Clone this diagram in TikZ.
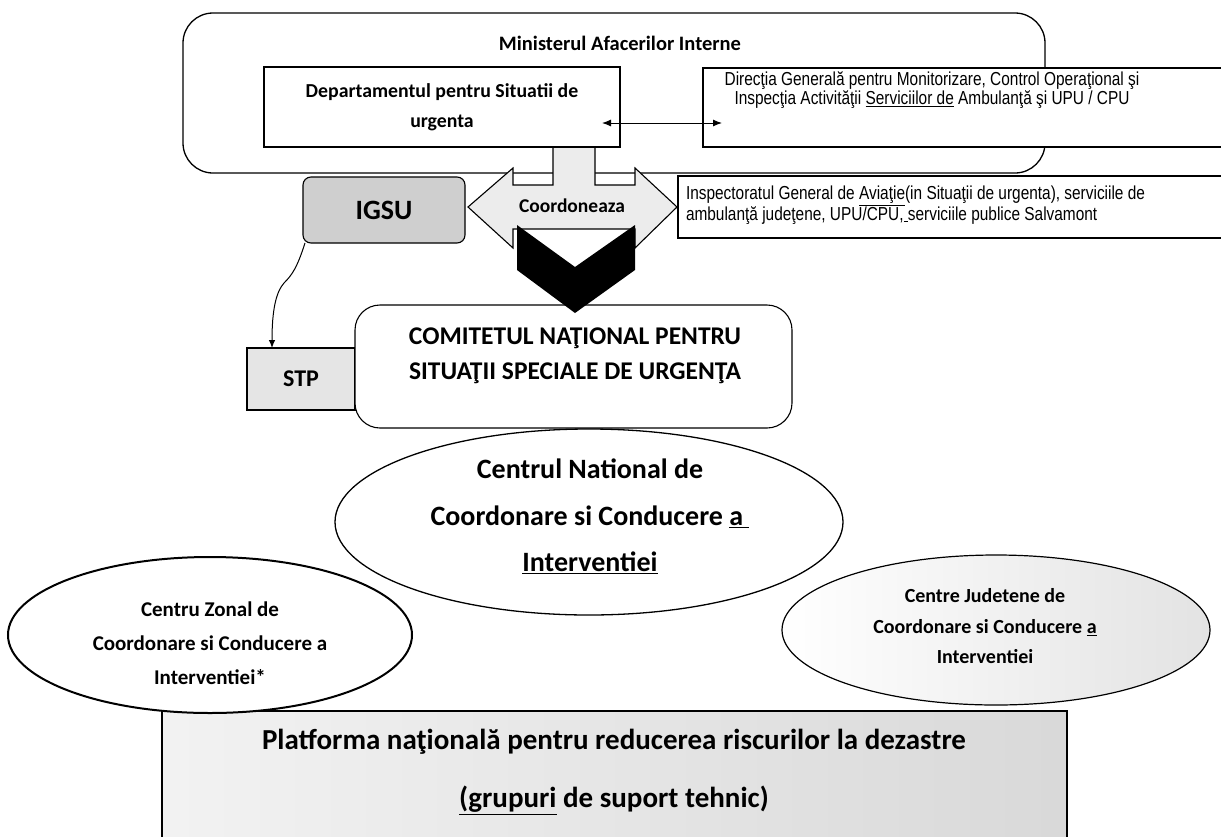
\documentclass[tikz,border=0pt]{standalone}
\usepackage{fontspec}
\setmainfont{Carlito}
\newfontfamily\narrowsans[FakeStretch=0.82]{Liberation Sans}
\usetikzlibrary{shapes.geometric,arrows.meta}
\newcommand{\fsz}[2]{\fontsize{#1}{#2}\selectfont}
\begin{document}
\begin{tikzpicture}[x=1pt,y=-1pt,line width=1.1pt,
  every node/.style={inner sep=0pt, outer sep=0pt},
  plainbox/.style={draw, fill=white},
  tipstyle/.style={-{Latex[length=8pt,width=6.5pt]}, line width=1pt},
  bothtip/.style={{Latex[length=9pt,width=7pt]}-{Latex[length=9pt,width=7pt]}, line width=1pt},
  narrowtxt/.style={font=\narrowsans\fsz{18.8}{19.5}},
]
\useasboundingbox (0,0) rectangle (1221,836);
\clip (0,0) rectangle (1221,836);

% Ministerul outer box
\node[plainbox, rounded corners=30pt, minimum width=862pt, minimum height=160pt, line width=1.3pt] (mai) at (614,93) {};
\node[font=\fsz{20.5}{22}\bfseries] (maitxt) at (620,43) {Ministerul Afacerilor Interne};

% Coordoneaza arrow shape
\draw[fill=gray!15] (553,140) -- (553,185) -- (513,185) -- (513,168) -- (468,207) -- (513,248) -- (513,229) -- (635,229) -- (635,248) -- (677,207) -- (635,168) -- (635,185) -- (595,185) -- (595,140) -- cycle;

% Departament
\node[plainbox, minimum width=356pt, minimum height=80pt, align=center, font=\fsz{19.8}{30}\bfseries] (dep) at (442,107) {Departamentul pentru Situatii de\\urgenta};

% Directia
\node[plainbox, minimum width=537pt, minimum height=79pt] (dir) at (971.5,107.5) {};
\node[narrowtxt, align=center] (dirtxt) at (932,90) {Direcţia Generală pentru Monitorizare, Control Operaţional şi\\Inspecţia Activităţii \underline{Serviciilor de} Ambulanţă şi UPU / CPU};

\coordinate (dl) at (602,123);
\coordinate (dr) at (722,123);
\draw[bothtip] (dl) -- (dr);

% Inspectoratul
\node[plainbox, minimum width=562pt, minimum height=62pt] (insp) at (959,207) {};
\node[narrowtxt, align=left, anchor=west] (insptxt) at (686,205) {Inspectoratul General de \underline{Aviaţie}(in Situaţii de urgenta), serviciile de\\ambulanţă judeţene, UPU/CPU,\underline{\ }serviciile publice Salvamont};

% IGSU and STP
\node[draw, fill=gray!38, rounded corners=8pt, minimum width=162pt, minimum height=66pt, font=\fsz{28}{30}\bfseries] (igsu) at (384,210) {IGSU};
\node[draw, fill=gray!20, minimum width=108pt, minimum height=62pt, font=\fsz{24}{26}\bfseries] (stp) at (301,379) {STP};

% CNSSU
\node[plainbox, rounded corners=25pt, minimum width=437pt, minimum height=123pt] (cnssu) at (573.5,366.5) {};
\node[font=\fsz{25.5}{35}\bfseries, align=center] (cnssutxt) at (575,355.5) {COMITETUL NAŢIONAL PENTRU\\SITUAŢII SPECIALE DE URGENŢA};

% black chevron
\fill (517,225) -- (575,267) -- (635,225) -- (635,270) -- (575,313) -- (517,270) -- cycle;
\node[font=\fsz{19.5}{20}\bfseries] (coordtxt) at (572,206) {Coordoneaza};

% IGSU -> STP
\draw[tipstyle] ([xshift=2pt]igsu.south west) .. controls (297,268) and (292,275) .. (284,283) .. controls (276,292) and (272,310) .. ([xshift=-29pt]stp.north);

% Platform
\node[draw, left color=gray!10, right color=gray!30, minimum width=905pt, minimum height=139pt] (plat) at (614.5,780.5) {};
\node[font=\fsz{29}{58}\bfseries, align=center] (plattxt) at (614,772) {Platforma naţională pentru reducerea riscurilor la dezastre\\\underline{(grupuri} de suport tehnic)};

% Ellipses
\node[draw, ellipse, fill=white, line width=1.3pt, minimum width=508pt, minimum height=186pt] (cn) at (589,522) {};
\node[font=\fsz{28}{46.5}\bfseries, align=center] (cntxt) at (590,516.5) {Centrul National de\\Coordonare si Conducere \underline{a\ }\\\underline{Interventiei}};

\node[draw, ellipse, fill=white, line width=2pt, minimum width=404pt, minimum height=156pt] (cz) at (210,635) {};
\node[font=\fsz{21}{34}\bfseries, align=center] (cztxt) at (210,643) {Centru Zonal de\\Coordonare si Conducere a\\Interventiei*};

\node[draw, ellipse, left color=white, right color=gray!22, line width=1.2pt, minimum width=428pt, minimum height=150pt] (cj) at (996,630) {};
\node[font=\fsz{20}{30.5}\bfseries, align=center] (cjtxt) at (985,626.5) {Centre Judetene de\\Coordonare si Conducere \underline{a}\\Interventiei};
\end{tikzpicture}
\end{document}
